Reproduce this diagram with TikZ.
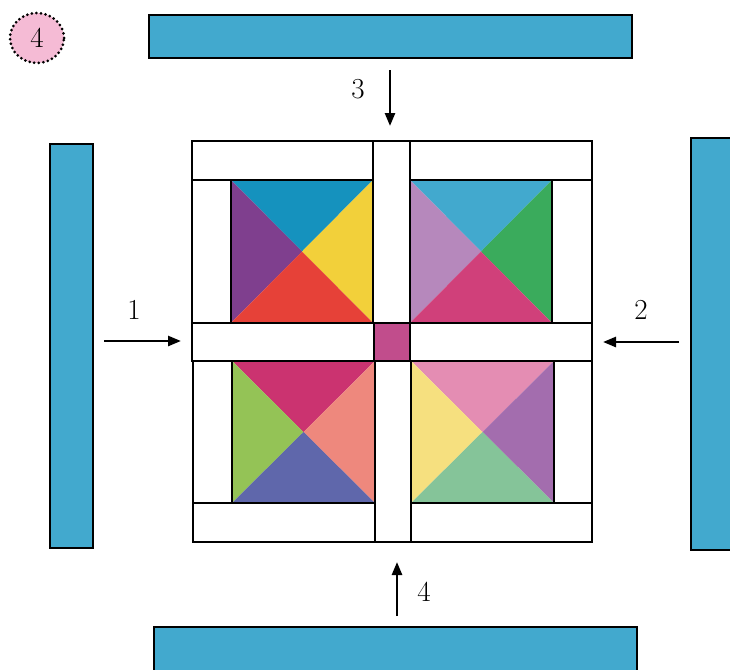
\documentclass[tikz,border=0pt]{standalone}
\usetikzlibrary{arrows.meta,shapes.geometric}
\definecolor{barblue}{HTML}{42A9CE}
\definecolor{circpink}{HTML}{F5BBD5}
\definecolor{cmag}{HTML}{C14D8C}
% top-left square
\definecolor{tlT}{HTML}{1592BE}\definecolor{tlL}{HTML}{7F3F8E}\definecolor{tlR}{HTML}{F2D03A}\definecolor{tlB}{HTML}{E64138}
% top-right square
\definecolor{trT}{HTML}{42A9CE}\definecolor{trL}{HTML}{B688BC}\definecolor{trR}{HTML}{3AAB5C}\definecolor{trB}{HTML}{D0407A}
% bottom-left square
\definecolor{blT}{HTML}{CB3370}\definecolor{blL}{HTML}{94C356}\definecolor{blR}{HTML}{EE887D}\definecolor{blB}{HTML}{5F67AB}
% bottom-right square
\definecolor{brT}{HTML}{E48DB3}\definecolor{brL}{HTML}{F6E07F}\definecolor{brR}{HTML}{A36DAE}\definecolor{brB}{HTML}{85C499}
\newcommand\quiltsq[8]{%
  \fill[#5] (#1,#2) -- (#3,#2) -- ({(#1+#3)/2},{(#2+#4)/2}) -- cycle;
  \fill[#6] (#1,#2) -- (#1,#4) -- ({(#1+#3)/2},{(#2+#4)/2}) -- cycle;
  \fill[#7] (#3,#2) -- (#3,#4) -- ({(#1+#3)/2},{(#2+#4)/2}) -- cycle;
  \fill[#8] (#1,#4) -- (#3,#4) -- ({(#1+#3)/2},{(#2+#4)/2}) -- cycle;
}
\tikzset{
  strip/.style={draw=black,line width=2.6pt,fill=white},
  bar/.style={draw=black,line width=2.4pt,fill=barblue},
  arr/.style={-{Triangle[length=13pt,width=10pt]},line width=2.5pt},
  lbl/.style={font=\fontsize{29}{31}\selectfont,inner sep=0pt}
}
\begin{document}
\begin{tikzpicture}[x=1pt,y=-1pt]
\useasboundingbox (0,0) rectangle (730,669);
% blue bars
\draw[bar] (149,15) rectangle (632,58);
\draw[bar] (50,144) rectangle (93,548);
\draw[bar] (691,138) rectangle (745,550);
\draw[bar] (154,627) rectangle (637,685);
% badge
\node[ellipse,draw=black,fill=circpink,line width=3pt,dash pattern=on 0pt off 4.6pt,line cap=round,
      minimum width=54pt,minimum height=50pt,inner sep=0pt] (badge) at (37,38) {};
\node[lbl] (badgetxt) at (badge.center) {4};
% quilt squares
\quiltsq{231}{180}{373}{323}{tlT}{tlL}{tlR}{tlB}
\quiltsq{410}{180}{552}{323}{trT}{trL}{trR}{trB}
\quiltsq{232}{361}{375}{503}{blT}{blL}{blR}{blB}
\quiltsq{411}{361}{554}{503}{brT}{brL}{brR}{brB}
% strips
\draw[strip] (192,141) rectangle (373,180);
\draw[strip] (192,180) rectangle (231,323);
\draw[strip] (373,141) rectangle (410,323);
\draw[strip] (410,141) rectangle (592,180);
\draw[strip] (552,180) rectangle (592,323);
\draw[strip] (192,323) rectangle (374,361);
\draw[strip,fill=cmag] (374,323) rectangle (410,361);
\draw[strip] (410,323) rectangle (592,361);
\draw[strip] (193,361) rectangle (232,503);
\draw[strip] (193,503) rectangle (375,542);
\draw[strip] (375,361) rectangle (411,542);
\draw[strip] (554,361) rectangle (592,503);
\draw[strip] (411,503) rectangle (592,542);
% arrows
\coordinate (a1s) at (104,341); \coordinate (a1e) at (181,341);
\coordinate (a2s) at (679,342); \coordinate (a2e) at (603,342);
\coordinate (a3s) at (390,70);  \coordinate (a3e) at (390,126);
\coordinate (a4s) at (397,616); \coordinate (a4e) at (397,562);
\draw[arr] (a1s) -- (a1e);
\draw[arr] (a2s) -- (a2e);
\draw[arr] (a3s) -- (a3e);
\draw[arr] (a4s) -- (a4e);
\node[lbl] (l1) at (134,310) {1};
\node[lbl] (l2) at (641,310) {2};
\node[lbl] (l3) at (358,89) {3};
\node[lbl] (l4) at (424,592) {4};
\end{tikzpicture}
\end{document}
